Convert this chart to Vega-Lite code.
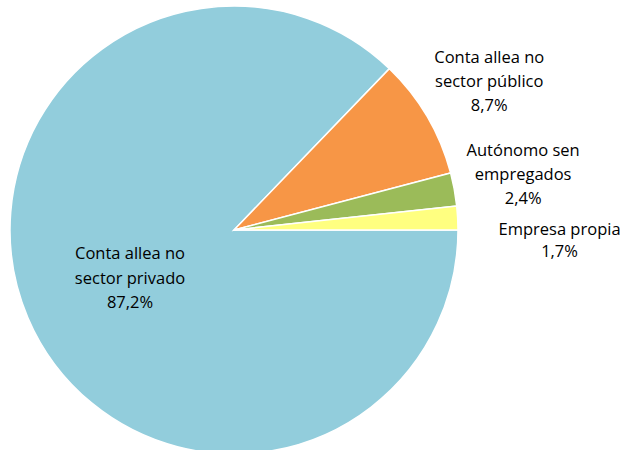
{
  "$schema": "https://vega.github.io/schema/vega-lite/v6.json",
  "autosize": "none",
  "width": 627,
  "height": 450,
  "padding": 0,
  "background": "white",
  "view": {"stroke": null},
  "data": {
    "values": [
      {"cat": "Conta allea no sector privado", "label": "Conta allea no\nsector privado\n87,2%", "value": 87.2},
      {"cat": "Conta allea no sector público", "label": "Conta allea no\nsector público\n8,7%", "value": 8.7},
      {"cat": "Autónomo sen empregados", "label": "Autónomo sen\nempregados\n2,4%", "value": 2.4},
      {"cat": "Empresa propia", "label": "Empresa propia\n1,7%", "value": 1.7}
    ]
  },
  "encoding": {
    "theta": {"field": "value", "type": "quantitative", "stack": true, "scale": {"range": [1.5707963, 7.8539816]}},
    "order": {"field": "value", "type": "quantitative", "sort": "descending"},
    "x": {"value": 234},
    "y": {"value": 230}
  },
  "layer": [
    {
      "mark": {"type": "arc", "radius": 224, "stroke": "white", "strokeWidth": 1.5},
      "encoding": {
        "color": {
          "field": "cat",
          "type": "nominal",
          "scale": {
            "domain": ["Conta allea no sector privado", "Conta allea no sector público", "Autónomo sen empregados", "Empresa propia"],
            "range": ["#92CDDC", "#F79646", "#9BBB59", "#FFFF80"]
          },
          "legend": null
        }
      }
    },
    {
      "mark": {"type": "text", "radius": 113, "dy": -20, "font": "Open Sans", "fontSize": 16.5, "lineBreak": "\n", "lineHeight": 24.5, "align": "center", "baseline": "middle", "color": "black"},
      "encoding": {
        "text": {"condition": {"test": "datum.cat === 'Conta allea no sector privado'", "field": "label"}, "value": ""}
      }
    },
    {
      "mark": {"type": "text", "radius": 296, "dy": -22, "font": "Open Sans", "fontSize": 16.5, "lineBreak": "\n", "lineHeight": 24, "align": "center", "baseline": "middle", "color": "black"},
      "encoding": {
        "text": {"condition": {"test": "datum.cat === 'Conta allea no sector público'", "field": "label"}, "value": ""}
      }
    },
    {
      "mark": {"type": "text", "radius": 294, "dy": -26, "font": "Open Sans", "fontSize": 16.5, "lineBreak": "\n", "lineHeight": 24, "align": "center", "baseline": "middle", "color": "black"},
      "encoding": {
        "text": {"condition": {"test": "datum.cat === 'Autónomo sen empregados'", "field": "label"}, "value": ""}
      }
    },
    {
      "mark": {"type": "text", "radius": 326, "dy": 17, "font": "Open Sans", "fontSize": 16.5, "lineBreak": "\n", "lineHeight": 22, "align": "center", "baseline": "middle", "color": "black"},
      "encoding": {
        "text": {"condition": {"test": "datum.cat === 'Empresa propia'", "field": "label"}, "value": ""}
      }
    }
  ]
}
